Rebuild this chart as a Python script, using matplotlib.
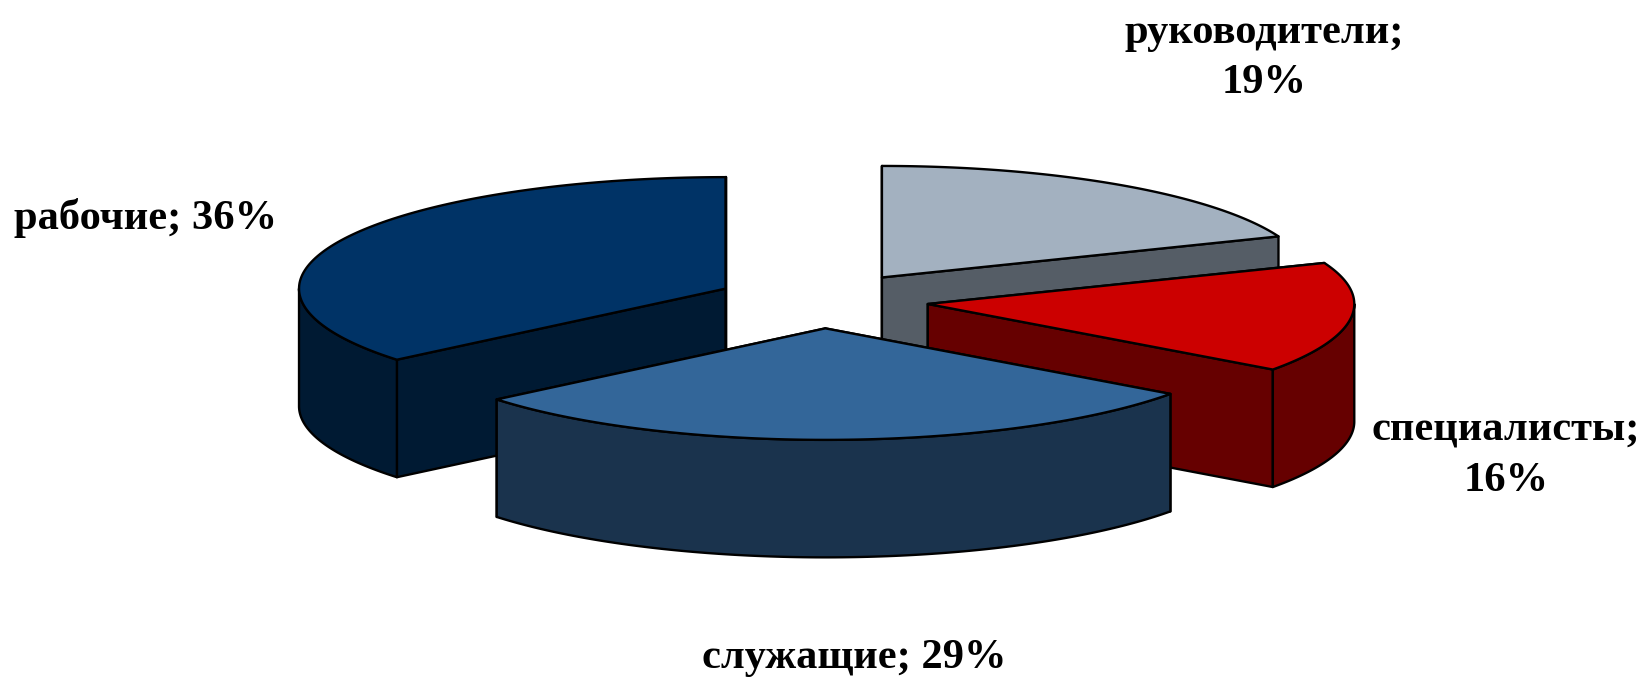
# -*- coding: utf-8 -*-
import matplotlib
matplotlib.use("Agg")
import matplotlib.pyplot as plt
from matplotlib.patches import Polygon
import numpy as np

plt.rcParams["font.family"] = ["Liberation Serif", "DejaVu Serif"]

#%% data
categories = ["руководители", "специалисты", "служащие", "рабочие"]
values = [19, 16, 29, 36]

#%% style
top_colors = ["#a3b1c0", "#cc0000", "#336699", "#003366"]
side_colors = ["#555d66", "#660000", "#1a334d", "#001a33"]
explode = 0.25
# label anchor (center x, last baseline y) and line break after the semicolon
label_pos = [(1264, 93), (1506, 491), (854, 668), (146, 229)]
label_break = [True, True, False, False]

# pie geometry in pixels
cx, cy = 822, 300.5
rx, ry = 426.5, 111.5
depth = 117.5
edge = "black"
lw = 1.7


def arc(x0, y0, a, b, dy=0):
    """points of the ellipse between angles a and b, clockwise from the top"""
    t = np.radians(np.linspace(a, b, 120))
    return np.column_stack([x0 + rx * np.sin(t), y0 - ry * np.cos(t) + dy])


def face(ax, pts, color):
    ax.add_patch(Polygon(pts, closed=True, facecolor=color, edgecolor=edge,
                         linewidth=lw, joinstyle="round"))


def draw_slice(ax, start, end, top, side):
    mid = np.radians((start + end) / 2)
    x0 = cx + explode * rx * np.sin(mid)
    y0 = cy - explode * ry * np.cos(mid)

    # cut walls, the one further back first
    walls = sorted([start, end], key=lambda a: -np.cos(np.radians(a)))
    for a in walls:
        p = arc(x0, y0, a, a)[0]
        face(ax, [(x0, y0), p, (p[0], p[1] + depth), (x0, y0 + depth)], side)

    # outer wall, only the front half of the ellipse shows
    a, b = max(start, 90), min(end, 270)
    if a < b:
        upper = arc(x0, y0, a, b)
        lower = arc(x0, y0, a, b, dy=depth)[::-1]
        face(ax, np.vstack([upper, lower]), side)

    face(ax, np.vstack([[(x0, y0)], arc(x0, y0, start, end)]), top)


#%% plot
fig = plt.figure(figsize=(16.39, 6.77), dpi=100)
ax = fig.add_axes([0, 0, 1, 1])
ax.set_xlim(0, 1639)
ax.set_ylim(677, 0)
ax.axis("off")

bounds = np.concatenate([[0], np.cumsum(values)]) * 360 / sum(values)
slices = []
for i in range(len(values)):
    mid = np.radians((bounds[i] + bounds[i + 1]) / 2)
    slices.append((-np.cos(mid), i))

# back slices first so the front ones cover them
for _, i in sorted(slices):
    draw_slice(ax, bounds[i], bounds[i + 1], top_colors[i], side_colors[i])

for cat, val, pos, brk in zip(categories, values, label_pos, label_break):
    sep = ";\n" if brk else "; "
    ax.text(pos[0], pos[1], f"{cat}{sep}{val}%", ha="center", va="baseline",
            multialignment="center", fontsize=30.6, fontweight="bold",
            color="black", linespacing=1.42)

fig.savefig("out.png", dpi=100)
